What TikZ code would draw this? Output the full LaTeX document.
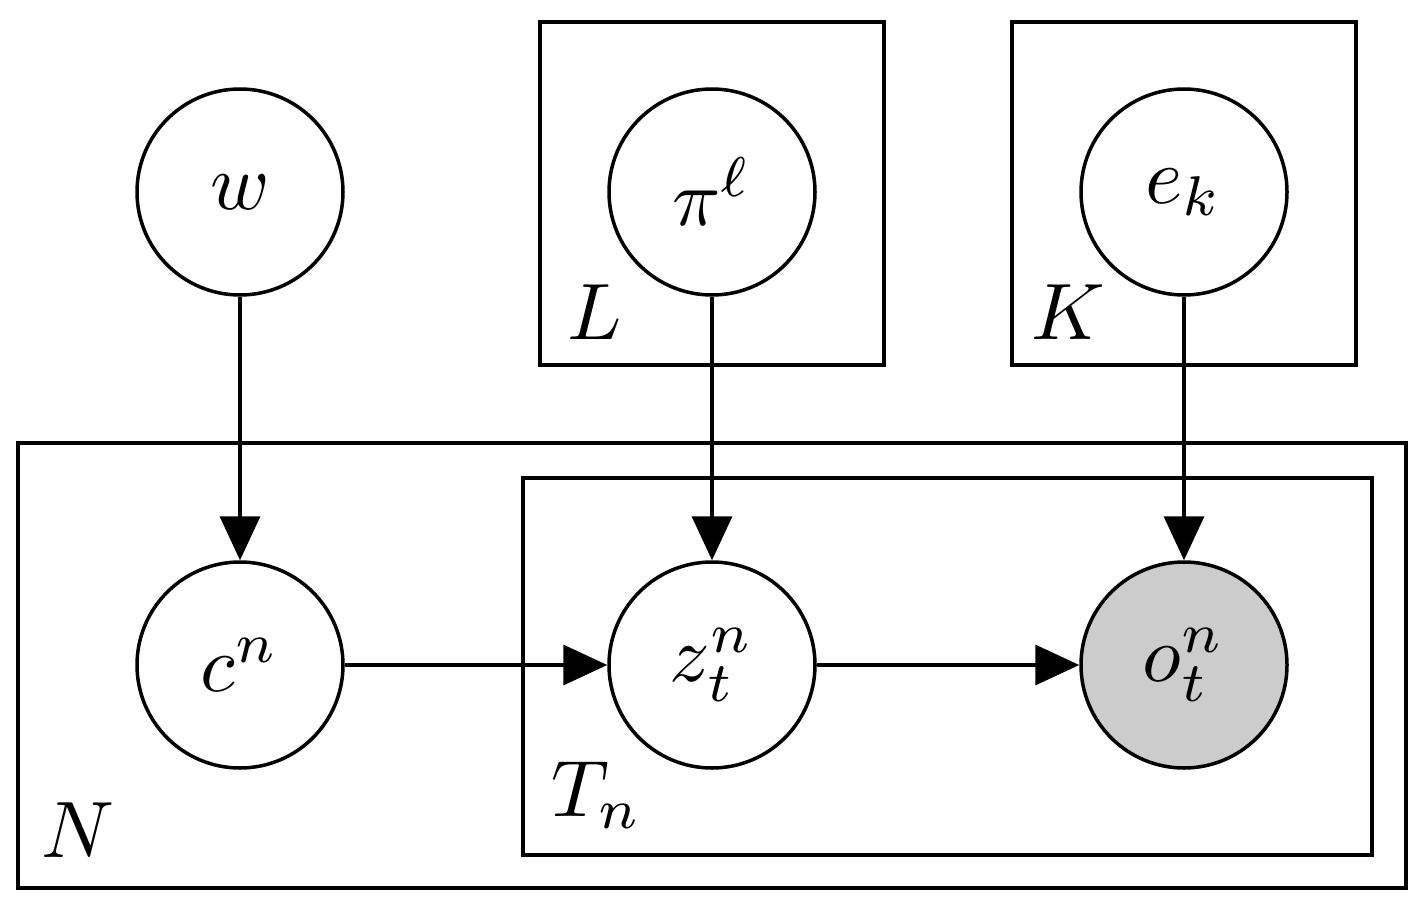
\documentclass[tikz,border=0pt]{standalone}
\usetikzlibrary{arrows.meta}
\begin{document}
\begin{tikzpicture}[x=1pt,y=-1pt,line width=3.5pt,
  var/.style={circle,draw,minimum size=206pt,inner sep=0pt},
  obs/.style={var,fill=black!20},
  plate/.style={draw},
  lab/.style={inner sep=0pt},
  arr/.style={-{Triangle[length=44pt,width=40pt]}}]
\useasboundingbox (0,0) rectangle (1423,902);
\node[var] (w) at (240,192) {\scalebox{8}{$w$}};
\node[var] (pi) at (712,192) {\scalebox{8}{$\pi^\ell$}};
\node[var] (e) at (1184,192) {\scalebox{8}{$e_k$}};
\node[var] (c) at (240,665) {\scalebox{8}{$c^n$}};
\node[var] (z) at (712,665) {\scalebox{8}{$z^n_t$}};
\node[obs] (o) at (1184,665) {\scalebox{8}{$o^n_t$}};
\draw[plate] (540,22) rectangle (884,365);
\draw[plate] (1012,22) rectangle (1356,365);
\draw[plate] (18,443) rectangle (1406,888);
\draw[plate] (523,478) rectangle (1372,855);
\node[lab] (lL) at (595,312) {\scalebox{8}{$L$}};
\node[lab] (lK) at (1068,312) {\scalebox{8}{$K$}};
\node[lab] (lN) at (78,830) {\scalebox{8}{$N$}};
\node[lab] (lT) at (597,795) {\scalebox{8}{$T_n$}};
\draw[arr] (w) -- (c);
\draw[arr] (pi) -- (z);
\draw[arr] (e) -- (o);
\draw[arr] (c) -- (z);
\draw[arr] (z) -- (o);
\end{tikzpicture}
\end{document}
